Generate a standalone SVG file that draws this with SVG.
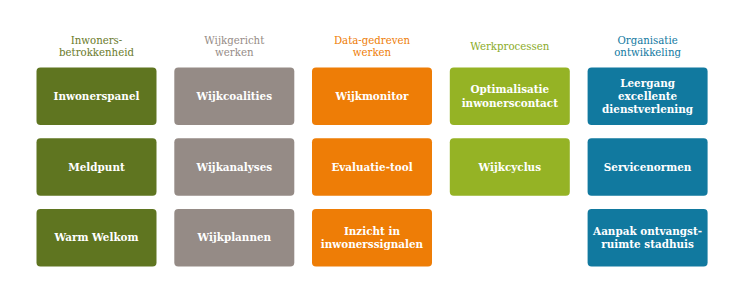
<svg xmlns="http://www.w3.org/2000/svg" width="756" height="307" viewBox="0 0 756 307">
<style>
.h{font-family:"DejaVu Serif","Liberation Serif",serif;font-size:10.2px;text-anchor:middle}
.t{font-family:"DejaVu Serif","Liberation Serif",serif;font-size:10.4px;font-weight:bold;fill:#fff;text-anchor:middle}
.c1{fill:#5f7520}.c2{fill:#958b86}.c3{fill:#ee7d06}.c4{fill:#95b325}.c5{fill:#11799f}
</style>
<rect width="756" height="307" fill="#fff"/>
<g id="headers">
<text class="h" fill="#6a7a2a" x="96.5" y="43.5">Inwoners-<tspan x="96.5" dy="12.5">betrokkenheid</tspan></text>
<text class="h" fill="#958b86" x="234.3" y="43.5">Wijkgericht<tspan x="234.3" dy="12.5">werken</tspan></text>
<text class="h" fill="#ee7d06" x="372" y="43.5">Data-gedreven<tspan x="372" dy="12.5">werken</tspan></text>
<text class="h" fill="#8aab27" x="509.8" y="49.5">Werkprocessen</text>
<text class="h" fill="#11799f" x="647.6" y="43.5">Organisatie<tspan x="647.6" dy="12.5">ontwikkeling</tspan></text>
</g>
<g id="n-inwonerspanel"><rect class="c1" x="36.5" y="67.5" width="120" height="57.5" rx="4"/><text class="t" x="96.5" y="99.8">Inwonerspanel</text></g>
<g id="n-meldpunt"><rect class="c1" x="36.5" y="138.3" width="120" height="57.5" rx="4"/><text class="t" x="96.5" y="170.6">Meldpunt</text></g>
<g id="n-warmwelkom"><rect class="c1" x="36.5" y="209" width="120" height="57.5" rx="4"/><text class="t" x="96.5" y="241.3">Warm Welkom</text></g>
<g id="n-wijkcoalities"><rect class="c2" x="174.3" y="67.5" width="120" height="57.5" rx="4"/><text class="t" x="234.3" y="99.8">Wijkcoalities</text></g>
<g id="n-wijkanalyses"><rect class="c2" x="174.3" y="138.3" width="120" height="57.5" rx="4"/><text class="t" x="234.3" y="170.6">Wijkanalyses</text></g>
<g id="n-wijkplannen"><rect class="c2" x="174.3" y="209" width="120" height="57.5" rx="4"/><text class="t" x="234.3" y="241.3">Wijkplannen</text></g>
<g id="n-wijkmonitor"><rect class="c3" x="312" y="67.5" width="120" height="57.5" rx="4"/><text class="t" x="372" y="99.8">Wijkmonitor</text></g>
<g id="n-evaluatie"><rect class="c3" x="312" y="138.3" width="120" height="57.5" rx="4"/><text class="t" x="372" y="170.6">Evaluatie-tool</text></g>
<g id="n-inzicht"><rect class="c3" x="312" y="209" width="120" height="57.5" rx="4"/><text class="t" x="372" y="234.5">Inzicht in<tspan x="372" dy="13.5">inwonerssignalen</tspan></text></g>
<g id="n-optimalisatie"><rect class="c4" x="449.8" y="67.5" width="120" height="57.5" rx="4"/><text class="t" x="509.8" y="93">Optimalisatie<tspan x="509.8" dy="13.5">inwonerscontact</tspan></text></g>
<g id="n-wijkcyclus"><rect class="c4" x="449.8" y="138.3" width="120" height="57.5" rx="4"/><text class="t" x="509.8" y="170.6">Wijkcyclus</text></g>
<g id="n-leergang"><rect class="c5" x="587.6" y="67.5" width="120" height="57.5" rx="4"/><text class="t" x="647.6" y="86.5">Leergang<tspan x="647.6" dy="13">excellente</tspan><tspan x="647.6" dy="13">dienstverlening</tspan></text></g>
<g id="n-servicenormen"><rect class="c5" x="587.6" y="138.3" width="120" height="57.5" rx="4"/><text class="t" x="647.6" y="170.6">Servicenormen</text></g>
<g id="n-aanpak"><rect class="c5" x="587.6" y="209" width="120" height="57.5" rx="4"/><text class="t" x="647.6" y="234.5">Aanpak ontvangst-<tspan x="647.6" dy="13.5">ruimte stadhuis</tspan></text></g>
<g id="connectors"/>
</svg>
